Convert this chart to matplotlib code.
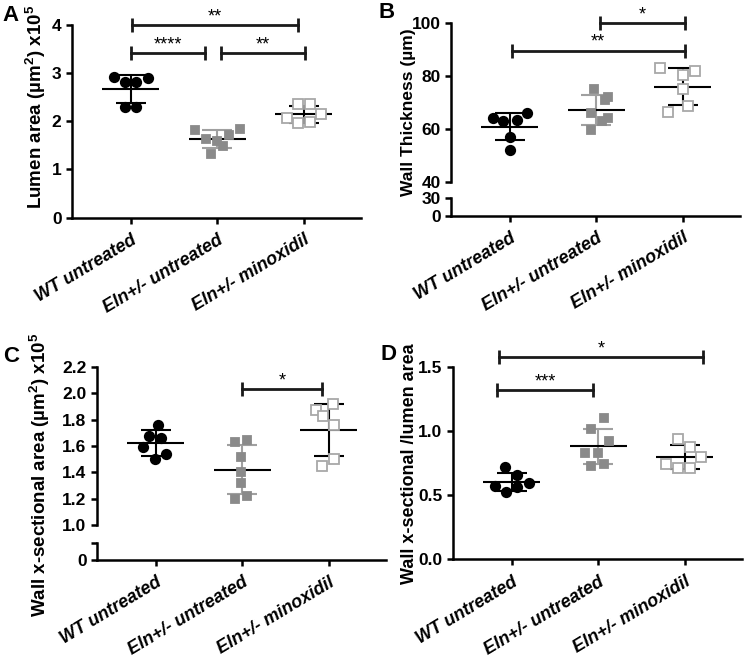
import numpy as np
import matplotlib
matplotlib.use('Agg')
import matplotlib.pyplot as plt
from matplotlib.ticker import FixedLocator

plt.rcParams['font.family'] = ['Liberation Sans', 'DejaVu Sans']
plt.rcParams['font.weight'] = 'bold'
plt.rcParams['mathtext.fontset'] = 'custom'
plt.rcParams['mathtext.rm'] = 'Liberation Sans:bold'
plt.rcParams['mathtext.default'] = 'rm'

groups = ['WT untreated', 'Eln+/- untreated', 'Eln+/- minoxidil']

# A: lumen area (x10^5 um^2)
lumen_wt = [2.92, 2.81, 2.81, 2.89, 2.30, 2.30]
lumen_eln = [1.81, 1.64, 1.59, 1.48, 1.71, 1.83, 1.31]
lumen_min = [2.36, 2.36, 2.06, 2.15, 1.96, 1.98]
lumen_dx = [[-0.20, -0.065, 0.06, 0.20, -0.065, 0.06],
            [-0.26, -0.13, 0.0, 0.065, 0.13, 0.26, -0.07],
            [-0.066, 0.07, -0.20, 0.20, -0.066, 0.066]]

# B: wall thickness (um)
wall_wt = [63.9, 62.8, 63.4, 65.9, 56.9, 52.1]
wall_eln = [75.0, 71.0, 72.0, 66.0, 64.0, 62.8, 59.6]
wall_min = [82.8, 81.8, 80.3, 75.0, 68.7, 66.5]
wall_dx = [[-0.20, -0.077, 0.077, 0.20, 0.0, 0.0],
           [-0.03, 0.10, 0.14, -0.065, 0.14, 0.065, -0.065],
           [-0.26, 0.135, 0.0, 0.0, 0.058, -0.173]]

# C: wall cross-sectional area (x10^5 um^2)
xsec_wt = [1.763, 1.675, 1.664, 1.589, 1.543, 1.498]
xsec_eln = [1.627, 1.649, 1.518, 1.404, 1.321, 1.195, 1.222]
xsec_min = [1.877, 1.917, 1.826, 1.763, 1.498, 1.447]
xsec_dx = [[0.02, -0.077, 0.058, -0.146, 0.123, -0.012],
           [-0.08, 0.054, -0.015, -0.015, -0.015, -0.08, 0.05],
           [-0.15, 0.05, -0.073, 0.06, 0.06, -0.085]]

# D: wall x-sectional / lumen area
ratio_wt = [0.718, 0.654, 0.568, 0.525, 0.563, 0.597]
ratio_eln = [1.10, 1.013, 0.925, 0.832, 0.832, 0.744, 0.731]
ratio_min = [0.938, 0.873, 0.796, 0.744, 0.711, 0.711]
ratio_dx = [[-0.077, 0.057, -0.20, -0.07, 0.065, 0.20],
            [0.061, -0.084, 0.123, -0.15, 0.0, 0.061, -0.084],
            [-0.077, 0.057, 0.19, -0.218, -0.077, 0.057]]

# significance bars: (x1, x2, y, label)
sig_a = [(0.01, 1.93, 4.0, '**'), (0.0, 0.86, 3.41, '****'), (1.04, 2.01, 3.41, '**')]
sig_b = [(1.04, 2.02, 100, '*'), (0.02, 2.02, 89.6, '**')]
sig_c = [(1.0, 1.92, 2.03, '*')]
sig_d = [(-0.15, 2.21, 1.576, '*'), (-0.17, 0.94, 1.318, '***')]

W, H = 746, 660
XLIM = (-0.68, 2.66)

styles = [
    dict(marker='o', mfc='black', mec='black', ms=6.8, sd='black'),
    dict(marker='s', mfc='#8a8a8a', mec='#8a8a8a', ms=6.2, sd='#a0a0a0'),
    dict(marker='s', mfc='white', mec='#a8a8a8', ms=6.5, sd='black'),
]


def box(l, r, top, bottom):
    return [l / W, 1 - bottom / H, (r - l) / W, (bottom - top) / H]


def style_ax(ax, bottom=True):
    for s in ['top', 'right']:
        ax.spines[s].set_visible(False)
    for s in ['left', 'bottom']:
        ax.spines[s].set_linewidth(1.8)
    ax.tick_params(axis='both', which='major', direction='out', length=4, width=1.8,
                   labelsize=12.5)
    ax.tick_params(axis='y', which='minor', direction='in', length=3.5, width=1.8)
    ax.set_xlim(*XLIM)
    if bottom:
        ax.set_xticks(range(len(groups)))
        ax.set_xticklabels(groups, rotation=31, ha='right', rotation_mode='anchor',
                           fontstyle='italic', fontsize=13)
        ax.tick_params(axis='x', pad=6)
    else:
        ax.spines['bottom'].set_visible(False)
        ax.set_xticks([])


def draw_groups(ax, data, offsets):
    for i, (vals, dx, st) in enumerate(zip(data, offsets, styles)):
        vals = np.array(vals)
        x = i + np.array(dx)
        m = vals.mean()
        sd = vals.std(ddof=1)
        ax.errorbar(i, m, yerr=sd, fmt='none', ecolor=st['sd'], elinewidth=1.5,
                    capsize=10.5, capthick=1.5, zorder=2)
        ax.hlines(m, i - 0.33, i + 0.33, color='black', lw=1.5, zorder=2)
        ax.plot(x, vals, linestyle='none', marker=st['marker'], ms=st['ms'],
                mfc=st['mfc'], mec=st['mec'], mew=1.3, zorder=3)


def draw_sig(ax, bars):
    for x1, x2, y, lab in bars:
        ax.plot([x1, x2], [y, y], color='#1a1a1a', lw=2, marker='|', ms=10,
                mew=2, clip_on=False, zorder=4)
        ax.annotate(lab, ((x1 + x2) / 2, y), xytext=(0, 0), textcoords='offset points',
                    ha='center', va='bottom', fontsize=13, fontweight='normal',
                    annotation_clip=False)


fig = plt.figure(figsize=(W / 100, H / 100), dpi=100)

# A
axA = fig.add_axes(box(72, 361, 25, 217.5))
style_ax(axA)
draw_groups(axA, [lumen_wt, lumen_eln, lumen_min], lumen_dx)
axA.set_ylim(0, 4)
axA.set_yticks([0, 1, 2, 3, 4])
draw_sig(axA, sig_a)
fig.text(36 / W, 1 - 5 / H, 'Lumen area (µm$^2$) x10$^5$', rotation=90,
         ha='center', va='top', fontsize=13.5)

# B (broken axis)
axB = fig.add_axes(box(451, 740, 23, 181.7))
axB2 = fig.add_axes(box(451, 740, 198.3, 215.5))
style_ax(axB, bottom=False)
style_ax(axB2)
draw_groups(axB, [wall_wt, wall_eln, wall_min], wall_dx)
axB.set_ylim(40, 100)
axB.set_yticks([40, 60, 80, 100])
axB.yaxis.set_minor_locator(FixedLocator([40]))
axB2.set_ylim(0, 30)
axB2.set_yticks([0, 30])
axB2.yaxis.set_minor_locator(FixedLocator([30]))
draw_sig(axB, sig_b)
fig.text(408 / W, 1 - 28 / H, 'Wall Thickness (µm)', rotation=90,
         ha='center', va='top', fontsize=12.5)

# C (broken axis)
axC = fig.add_axes(box(97, 386, 367, 525))
axC2 = fig.add_axes(box(97, 386, 542.7, 560))
style_ax(axC, bottom=False)
style_ax(axC2)
draw_groups(axC, [xsec_wt, xsec_eln, xsec_min], xsec_dx)
axC.set_ylim(1.0, 2.2)
axC.set_yticks(np.arange(1.0, 2.21, 0.2))
axC.set_yticklabels(['%.1f' % v for v in np.arange(1.0, 2.21, 0.2)])
axC.yaxis.set_minor_locator(FixedLocator([1.0]))
axC2.set_ylim(0, 0.5)
axC2.set_yticks([0, 0.5])
axC2.set_yticklabels(['0', ''])
axC2.yaxis.set_minor_locator(FixedLocator([0.5]))
draw_sig(axC, sig_c)
fig.text(40 / W, 1 - 333 / H, 'Wall x-sectional area (µm$^2$) x10$^5$', rotation=90,
         ha='center', va='top', fontsize=13.5)

# D
axD = fig.add_axes(box(453, 742, 367, 559.3))
style_ax(axD)
draw_groups(axD, [ratio_wt, ratio_eln, ratio_min], ratio_dx)
axD.set_ylim(0, 1.5)
axD.set_yticks([0, 0.5, 1.0, 1.5])
axD.set_yticklabels(['0.0', '0.5', '1.0', '1.5'])
draw_sig(axD, sig_d)
fig.text(409 / W, 1 - 343 / H, 'Wall x-sectional /lumen area', rotation=90,
         ha='center', va='top', fontsize=13)

for lab, (px, py) in zip('ABCD', [(2, 5), (378, 2), (3, 346), (380, 344)]):
    fig.text(px / W, 1 - py / H, lab, ha='left', va='top', fontsize=16, fontweight='bold')

fig.savefig('out.png', dpi=100)
